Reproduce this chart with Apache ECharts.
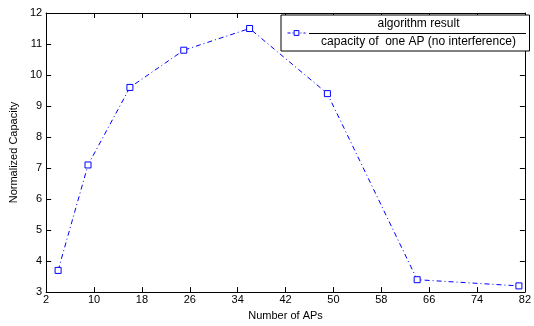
<!DOCTYPE html>
<html><head><meta charset="utf-8">
<script src="https://cdn.jsdelivr.net/npm/echarts@6/dist/echarts.min.js"></script>
<style>html,body{margin:0;padding:0;background:#fff}#c{width:534px;height:326px}</style>
</head><body><div id="c"></div>
<script>
const xValues = [4, 9, 16, 25, 36, 49, 64, 81];
const yValues = [3.7, 7.1, 9.6, 10.8, 11.5, 9.4, 3.4, 3.2];
const seriesName = 'algorithm result';
const legendNumerator = 'algorithm result';
const legendDenominator = 'capacity of  one AP (no interference)';
const xTitle = 'Number of APs';
const yTitle = 'Normalized Capacity';

const font = 'Liberation Sans, Arial, Helvetica, sans-serif';
const chart = echarts.init(document.getElementById('c'));
const tickStyle = {show: true, inside: true, length: 5, lineStyle: {color: '#000', width: 1}};
const lineAx = {show: true, lineStyle: {color: '#000', width: 1}};
chart.setOption({
  animation: false,
  backgroundColor: '#fff',
  grid: {left: 37, right: 7, top: 13, bottom: 29},
  xAxis: [{
    type: 'value', min: 2, max: 82, interval: 8,
    name: xTitle, nameLocation: 'middle', nameGap: 16,
    nameTextStyle: {fontFamily: font, fontSize: 11, color: '#000'},
    axisLine: lineAx, axisTick: tickStyle,
    axisLabel: {fontFamily: font, fontSize: 11, color: '#000', margin: 2},
    splitLine: {show: false}
  }, {
    type: 'value', min: 2, max: 82, interval: 8, position: 'top',
    axisLine: lineAx, axisTick: tickStyle, axisLabel: {show: false}, splitLine: {show: false}
  }],
  yAxis: [{
    type: 'value', min: 3, max: 12, interval: 1,
    name: yTitle, nameLocation: 'middle', nameGap: 17,
    nameTextStyle: {fontFamily: font, fontSize: 11, color: '#000'},
    axisLine: lineAx, axisTick: tickStyle,
    axisLabel: {fontFamily: font, fontSize: 11, color: '#000', margin: 4},
    splitLine: {show: false}
  }, {
    type: 'value', min: 3, max: 12, interval: 1, position: 'right',
    axisLine: lineAx, axisTick: tickStyle, axisLabel: {show: false}, splitLine: {show: false}
  }],
  legend: {
    show: true, left: 281, top: 15, orient: 'vertical',
    backgroundColor: '#fff', borderColor: '#000', borderWidth: 1,
    padding: [3, 3, 3, 6], itemWidth: 18, itemHeight: 6, itemGap: 0,
    formatter: () => '{a|' + legendNumerator + '}\n{b|' + legendDenominator + '}',
    textStyle: {
      fontFamily: font, fontSize: 12, color: '#000',
      rich: {
        a: {fontFamily: font, fontSize: 12, width: 216, align: 'center', lineHeight: 18},
        b: {fontFamily: font, fontSize: 12, width: 216, align: 'center', lineHeight: 18}
      }
    },
    data: [{
      name: seriesName,
      itemStyle: {color: '#fff', borderColor: '#0000ff', borderWidth: 1},
      lineStyle: {color: '#0000ff', width: 1, type: [3, 2, 1, 2]}
    }]
  },
  graphic: [{
    type: 'line', shape: {x1: 309, y1: 33.5, x2: 526, y2: 33.5},
    style: {stroke: '#000', lineWidth: 1}, z: 100
  }],
  series: [{
    name: seriesName, type: 'line',
    data: xValues.map((x, i) => [x, yValues[i]]),
    symbol: 'rect', symbolSize: 6,
    itemStyle: {color: '#fff', borderColor: '#0000ff', borderWidth: 1},
    lineStyle: {color: '#0000ff', width: 1, type: [5, 3, 1, 3]}
  }]
});
</script></body></html>
